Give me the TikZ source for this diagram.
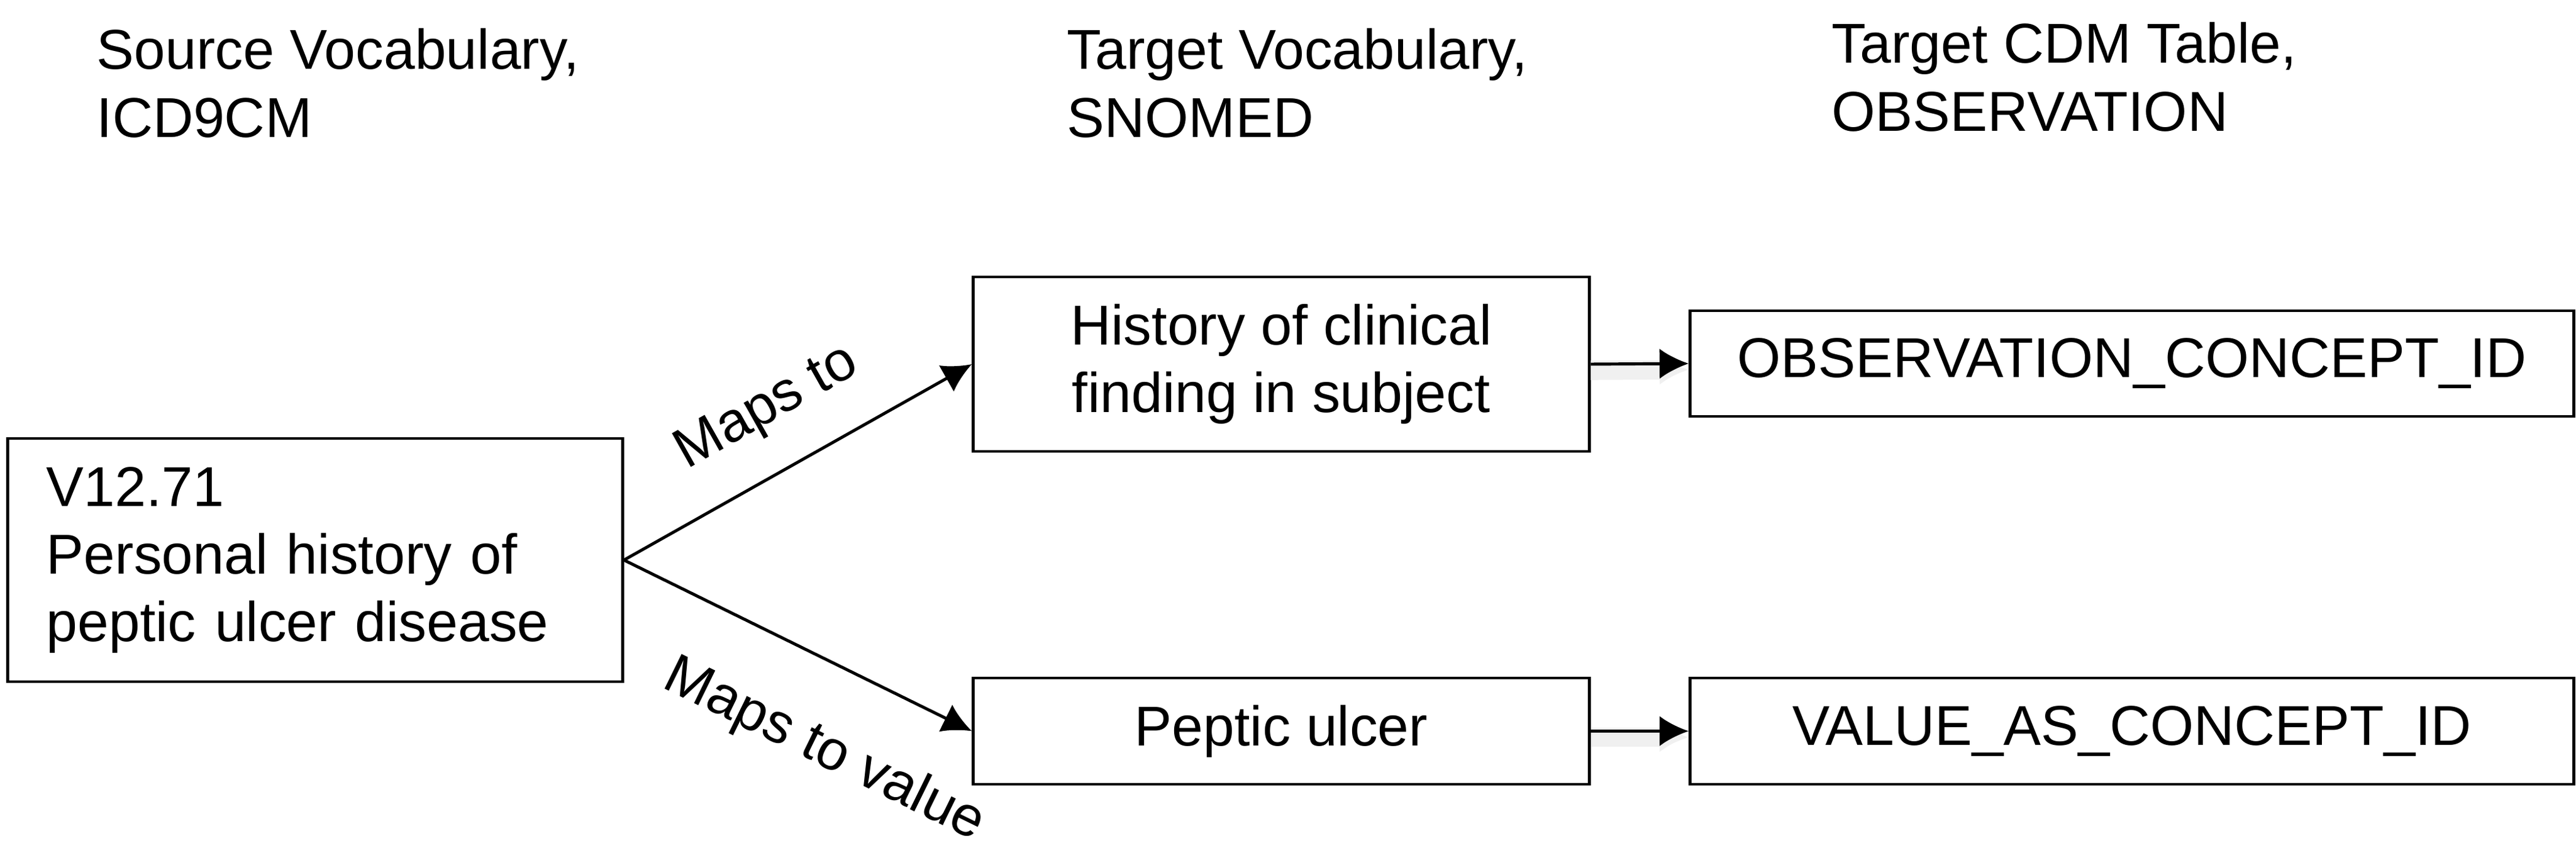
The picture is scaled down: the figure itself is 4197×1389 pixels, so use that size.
\documentclass[tikz,border=0pt]{standalone}
\usepackage{fontspec}
\setmainfont{Liberation Sans}
\usetikzlibrary{arrows.meta}
\begin{document}
\begin{tikzpicture}[x=0.01cm,y=-0.01cm,
  font=\fontsize{26pt}{31.3pt}\selectfont,
  box/.style={draw,line width=1.3pt,inner sep=0pt},
  head/.style={anchor=north west,align=left,inner sep=0pt},
  link/.style={->,>={Latex[length=13.5pt,width=14pt]},line width=1.4pt},
  shade/.style={preaction={draw=black!6,line width=9pt,transform canvas={yshift=-0.1cm}}}]
\useasboundingbox (0,0) rectangle (4197,1389);
% column headings
\node[head] (srchead) at (157,46) {Source Vocabulary,\\ICD9CM};
\node[head] (tgthead) at (1738,46) {Target Vocabulary,\\SNOMED};
\node[head] (cdmhead) at (2984,36) {Target CDM Table,\\OBSERVATION};
% boxes
\node[box,minimum height=3.96cm,text width=8.75cm,align=left,inner xsep=0.63cm] (src) at (513.5,912) {V12.71\\Personal history of\\peptic ulcer disease};
\node[box,minimum width=10.03cm,minimum height=2.84cm,align=center] (hist) at (2087.5,593) {History of clinical\\finding in subject};
\node[box,minimum width=10.03cm,minimum height=1.73cm] (pep) at (2087.5,1190.5) {Peptic ulcer};
\node[box,minimum width=14.39cm,minimum height=1.72cm] (obs) at (3473.5,592) {OBSERVATION\_CONCEPT\_ID};
\node[box,minimum width=14.39cm,minimum height=1.73cm] (val) at (3473.5,1190.5) {VALUE\_AS\_CONCEPT\_ID};
% mappings
\draw[link] (src.east) -- (hist.west) node[midway,sloped,above=0.45cm] (mapto) {Maps to};
\draw[link] (src.east) -- (pep.west) node[pos=0.68,sloped,below=0.78cm] (mapval) {Maps to value};
\draw[link,shade] (hist.east) -- (obs.west);
\draw[link,shade] (pep.east) -- (val.west);
\end{tikzpicture}
\end{document}
